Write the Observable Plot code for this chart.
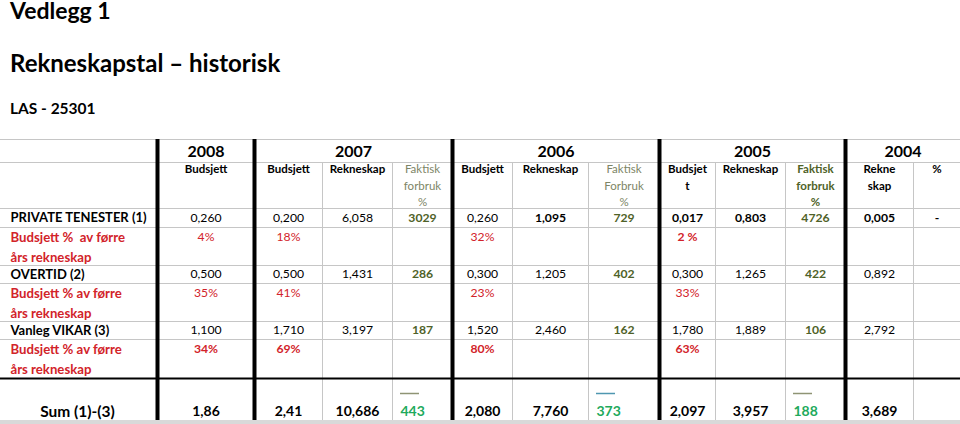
<!DOCTYPE html>
<html><head><meta charset="utf-8">
<script src="https://cdn.jsdelivr.net/npm/d3@7"></script>
<script src="https://cdn.jsdelivr.net/npm/@observablehq/plot@0.6"></script>
<style>
body{margin:0;background:#fff;font-family:Lato,sans-serif;}
#wrap{position:relative;width:960px;height:424px;overflow:hidden;background:#fff;}
#wrap svg{position:absolute;left:0;top:0;}
.t{position:absolute;left:10px;font-weight:bold;color:#000;white-space:nowrap;z-index:2;}
</style></head><body>
<div id="wrap">
<div class="t" id="t1" style="top:1px;font-size:23px;line-height:0.8"></div>
<div class="t" id="t2" style="top:51px;font-size:24px;line-height:1"></div>
<div class="t" id="t3" style="top:101px;font-size:15.5px;line-height:1"></div>
</div>
<script>
// ---------- texts / data ----------
const titles = ["Vedlegg 1", "Rekneskapstal – historisk", "LAS - 25301"];
const years = ["2008", "2007", "2006", "2005", "2004"];
const colHeaders = ["Budsjett", "Budsjett", "Rekneskap", "Faktisk\nforbruk\n%", "Budsjett", "Rekneskap",
  "Faktisk\nForbruk\n%", "Budsjet\nt", "Rekneskap", "Faktisk\nforbruk\n%", "Rekne\nskap", "%"];
const rowLabels = ["PRIVATE TENESTER (1)", "Budsjett %  av førre\nårs rekneskap", "OVERTID (2)",
  "Budsjett % av førre\nårs rekneskap", "Vanleg VIKAR (3)", "Budsjett % av førre\nårs rekneskap", "Sum (1)-(3)"];
const privat     = ["0,260", "0,200", "6,058", "3029", "0,260", "1,095", "729", "0,017", "0,803", "4726", "0,005", "-"];
const privatPct  = ["4%", "18%", "", "", "32%", "", "", "2 %", "", "", "", ""];
const overtid    = ["0,500", "0,500", "1,431", "286", "0,300", "1,205", "402", "0,300", "1,265", "422", "0,892", ""];
const overtidPct = ["35%", "41%", "", "", "23%", "", "", "33%", "", "", "", ""];
const vikar      = ["1,100", "1,710", "3,197", "187", "1,520", "2,460", "162", "1,780", "1,889", "106", "2,792", ""];
const vikarPct   = ["34%", "69%", "", "", "80%", "", "", "63%", "", "", "", ""];
const sumRow     = ["1,86", "2,41", "10,686", "443", "2,080", "7,760", "373", "2,097", "3,957", "188", "3,689", ""];

// ---------- layout / styles ----------
const colEdges = [157, 254, 322, 392, 452, 512, 588, 659, 715, 785, 845, 913, 960];
const rowEdges = [139, 162, 208, 227, 265, 283, 321, 339, 378, 420];
const yearSpans = [[0, 0], [1, 3], [4, 6], [7, 9], [10, 11]];
const thickEdges = [157, 254, 452, 659, 845];
const faktiskCols = [3, 6, 9];
const rowKinds = ["value", "pct", "value", "pct", "value", "pct", "sum"];
const boldExtra = {0: [5, 7, 8, 10, 11], 1: [7], 5: [0, 1, 4, 7]};
const overlineColors = ["#8f9474", "#4f97b0", "#8f9474"];
const RED = "#d2232a", OLIVE = "#4f6228", OLIVE_LIGHT = "#7d8566", GREEN = "#1eaa5c", GRID = "#c6c6c6";

titles.forEach((t, i) => document.getElementById("t" + (i + 1)).textContent = t);

const colCenter = c => (colEdges[c] + colEdges[c + 1]) / 2;
const rowData = [privat, privatPct, overtid, overtidPct, vikar, vikarPct, sumRow];

// text entries
const texts = [];
function addLines(str, x, y0, gap, o) {
  str.split("\n").forEach((s, k) => texts.push({text: s, x, y: y0 + k * gap, ...o}));
}
// years
years.forEach((yr, i) => {
  const [a, b] = yearSpans[i];
  addLines(yr, (colEdges[a] + colEdges[b + 1]) / 2, (rowEdges[0] + rowEdges[1]) / 2 + 1, 0,
    {size: 16, bold: true, fill: "#000", anchor: "middle"});
});
// column headers
colHeaders.forEach((h, c) => {
  const fk = faktiskCols.includes(c);
  addLines(h, colCenter(c), 169, 16.5, {size: 11.5, bold: !fk || c === 9,
    fill: fk ? (c === 9 ? OLIVE : OLIVE_LIGHT) : "#000", anchor: "middle"});
});
// row labels
rowLabels.forEach((l, r) => {
  const kind = rowKinds[r];
  const top = rowEdges[r + 2], bot = rowEdges[r + 3];
  if (kind === "sum") addLines(l, 77, 412, 0, {size: 15.5, bold: true, fill: "#000", anchor: "middle"});
  else if (kind === "pct") addLines(l, 10, top + 10, 20, {size: 13.2, bold: true, fill: RED, anchor: "start"});
  else addLines(l, 10, (top + bot) / 2, 0, {size: 13, bold: true, fill: "#000", anchor: "start"});
});
// values
rowData.forEach((vals, r) => {
  const kind = rowKinds[r];
  const top = rowEdges[r + 2], bot = rowEdges[r + 3];
  vals.forEach((v, c) => {
    if (!v) return;
    const fk = faktiskCols.includes(c);
    const bold = kind === "sum" || (kind === "value" && fk) || (boldExtra[r] || []).includes(c);
    if (kind === "sum") {
      if (fk) addLines(v, colEdges[c] + 8, 411, 0, {size: 14, bold, fill: GREEN, anchor: "start"});
      else addLines(v, colCenter(c), 411, 0, {size: 14, bold, fill: "#000", anchor: "middle"});
    } else if (kind === "pct") {
      addLines(v, colCenter(c), top + 9.5, 0, {size: 12.2, bold, fill: RED, anchor: "middle"});
    } else {
      addLines(v, colCenter(c), (top + bot) / 2, 0, {size: 12.2, bold, fill: fk ? OLIVE : "#000", anchor: "middle"});
    }
  });
});
// overlines on sum faktisk cells
const overlines = faktiskCols.map((c, i) => ({x1: colEdges[c] + 8, x2: colEdges[c] + 27, y: 393, stroke: overlineColors[i]}));

const hThin = rowEdges.slice(0, 8);
const vThin = colEdges.filter(e => !thickEdges.includes(e) && e < 960);

const textMark = (bold, anchor) => Plot.text(texts.filter(d => d.bold === bold && d.anchor === anchor), {
  x: "x", y: "y", text: "text", fill: "fill", fontSize: "size", textAnchor: anchor,
  lineAnchor: "middle", fontWeight: bold ? "bold" : "normal"
});

const chart = Plot.plot({
  width: 960, height: 424, margin: 0,
  x: {type: "identity", axis: null}, y: {type: "identity", axis: null}, color: {type: "identity"},
  style: {fontFamily: "Lato, sans-serif", background: "transparent", overflow: "visible"},
  marks: [
    Plot.rect([{}], {x1: () => 0, x2: () => 960, y1: () => rowEdges[9], y2: () => 424, fill: "#d9d9d9"}),
    Plot.ruleY(hThin, {y: d => d, x1: 0, x2: 960, stroke: GRID, strokeWidth: 1}),
    Plot.ruleX(vThin, {x: d => d, y1: rowEdges[1], y2: rowEdges[9], stroke: GRID, strokeWidth: 1}),
    Plot.ruleY([rowEdges[8]], {y: d => d, x1: 0, x2: 960, stroke: "#000", strokeWidth: 2}),
    Plot.ruleX(thickEdges, {x: d => d, y1: rowEdges[0], y2: rowEdges[9], stroke: "#000", strokeWidth: 4}),
    Plot.ruleY(overlines, {y: "y", x1: "x1", x2: "x2", stroke: "stroke", strokeWidth: 1.5}),
    textMark(false, "middle"), textMark(true, "middle"), textMark(false, "start"), textMark(true, "start")
  ]
});
document.getElementById("wrap").appendChild(chart);
</script>
</body></html>
